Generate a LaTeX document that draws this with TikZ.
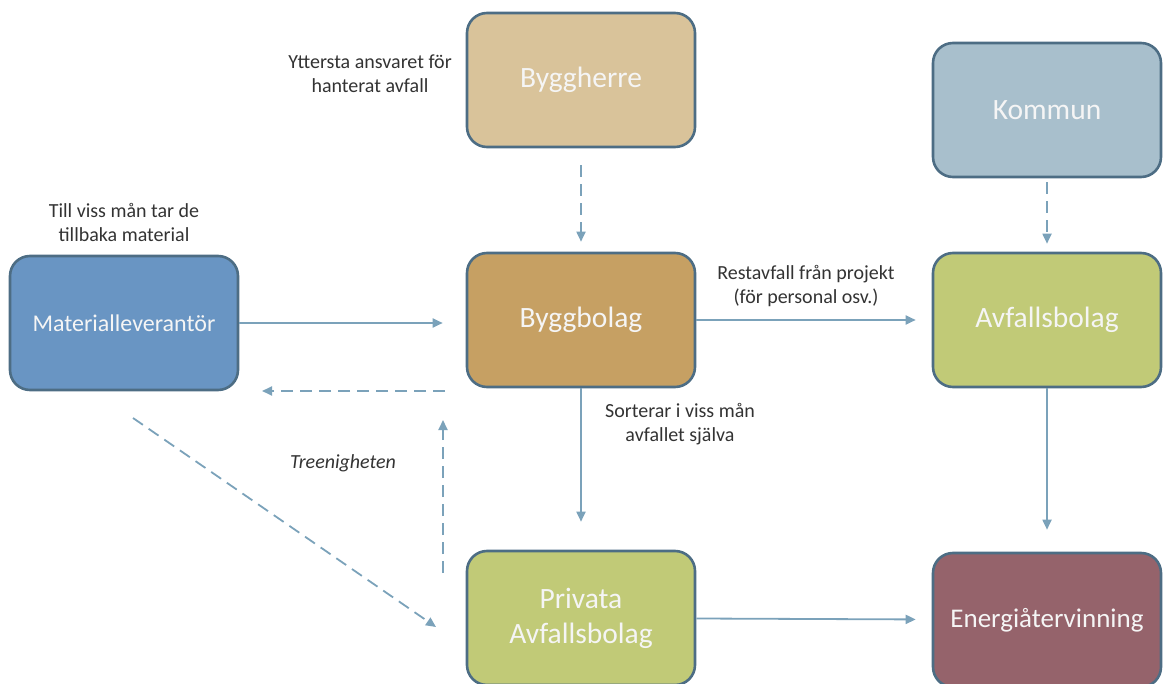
\documentclass[tikz,border=0pt]{standalone}
\usepackage{fontspec}
\setmainfont{Carlito}
\usetikzlibrary{arrows.meta, positioning, calc}

\definecolor{rimblue}{HTML}{4D6D84}
\definecolor{flowblue}{HTML}{7BA2BA}
\definecolor{herrefill}{HTML}{D9C39A}
\definecolor{byggfill}{HTML}{C6A063}
\definecolor{kommunfill}{HTML}{A8BFCC}
\definecolor{avffill}{HTML}{C1CA77}
\definecolor{matfill}{HTML}{6995C3}
\definecolor{energifill}{HTML}{95636B}

\begin{document}
\begin{tikzpicture}[x=1pt, y=-1pt,
        box/.style={draw=rimblue, line width=2.6pt, rounded corners=20pt,
            minimum width=228pt, minimum height=134pt, inner sep=0pt,
            text=white!96!black, align=center, font=\fontsize{29.5}{35}\selectfont},
        flow/.style={draw=flowblue, line width=1.8pt, -{Triangle[length=10pt, width=9pt]}},
        dflow/.style={flow, dash pattern=on 12pt off 7pt},
        note/.style={font=\fontsize{20}{24}\selectfont, text=black!80, align=center}]
        \useasboundingbox (0,0) rectangle (1172,684);
        \clip (0,0) rectangle (1172,684);

        % --- Boxes ---
        \node[box, fill=herrefill] (herre) at (581,80) {Byggherre};
        \node[box, fill=kommunfill] (kommun) at (1047,110) {Kommun};
        \node[box, fill=matfill, font=\fontsize{24}{29}\selectfont] (mat) at (124,323) {Materialleverantör};
        \node[box, fill=byggfill] (bygg) at (581,320) {Byggbolag};
        \node[box, fill=avffill] (avf) at (1047,320) {Avfallsbolag};
        \node[box, fill=avffill] (priv) at (581,618) {Privata\\Avfallsbolag};
        \node[box, fill=energifill, font=\fontsize{27}{32}\selectfont] (energi) at (1047,620) {Energiåtervinning};

        % --- Notes ---
        \node[note] (herreNote) at (370,74) {Yttersta ansvaret för\\hanterat avfall};
        \node[note] (matNote) at (124,222) {Till viss mån tar de\\tillbaka material};
        \node[note] (restNote) at (806,286) {Restavfall från projekt\\(för personal osv.)};
        \node[note] (sortNote) at (680,424) {Sorterar i viss mån\\avfallet själva};
        \node[note, font=\fontsize{20}{24}\selectfont\itshape] (trioNote) at (343,463) {Treenigheten};

        % --- Solid flows ---
        \draw[flow, shorten >=23pt] (mat.east) -- (mat.east -| bygg.west);
        \draw[flow, shorten >=16pt] (bygg) -- (avf);
        \draw[flow, shorten >=28pt] (bygg) -- (priv);
        \draw[flow, shorten >=22pt] (avf) -- (energi);
        \draw[flow, shorten >=16pt] (priv) -- (energi);

        % --- Dashed flows ---
        \draw[dflow, shorten <=17pt, shorten >=10pt] (herre) -- (bygg);
        \draw[dflow, shorten <=4pt, shorten >=8pt] (kommun) -- (avf);

        % --- Treenigheten ---
        \coordinate (backStart) at (445,391);
        \coordinate (backEnd) at (262,391);
        \coordinate (upStart) at (443,573);
        \coordinate (upEnd) at (443,420);
        \coordinate (diagStart) at (133,418);
        \coordinate (diagEnd) at (436,627);
        \draw[dflow] (backStart) -- (backEnd);
        \draw[dflow] (upStart) -- (upEnd);
        \draw[dflow] (diagStart) -- (diagEnd);
    \end{tikzpicture}
\end{document}
